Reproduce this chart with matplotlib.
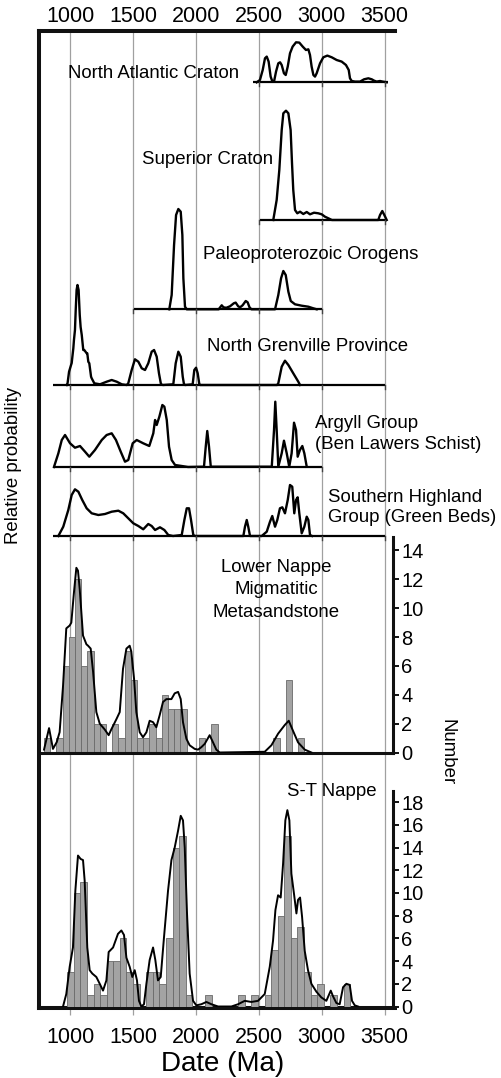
import numpy as np
import matplotlib
matplotlib.use('Agg')
import matplotlib.pyplot as plt

plt.rcParams['font.family'] = ['Liberation Sans', 'DejaVu Sans']

# ---------------- data ----------------
grid_ticks = [1000, 1500, 2000, 2500, 3000, 3500]

# North Atlantic Craton (relative probability, arbitrary units)
nac_age = [2482, 2508, 2530, 2548, 2562, 2577, 2593, 2607, 2620, 2636, 2654, 2668, 2681, 2699, 2713,
           2729, 2747, 2768, 2795, 2821, 2848, 2874, 2893, 2906, 2919, 2933, 2946, 2959, 2986, 3012,
           3044, 3079, 3118, 3158, 3192, 3214, 3224, 3238, 3264, 3304, 3336, 3370, 3397, 3415, 3436,
           3463, 3484, 3516]
nac_h = [0, 2.3, 12.3, 24, 25.7, 20.7, 5.7, 0.7, 0.7, 10.7, 19, 20, 17.3, 9, 7.3,
         15.7, 29, 35.7, 40, 39.7, 35.7, 32.3, 33, 27.3, 15.7, 7.3, 5.7, 9, 19, 25,
         26.7, 25, 22.3, 20.7, 17.3, 12.3, 4, 1.3, 0.7, 0.7, 3, 4, 3, 1.7, 0.7,
         1.3, 0.7, 0]

# Superior Craton
sup_age = [2614, 2641, 2662, 2681, 2694, 2715, 2734, 2752, 2763, 2773, 2787, 2805, 2827, 2853,
           2880, 2906, 2938, 2972, 2999, 3025, 3052, 3080, 3449, 3463, 3481, 3497, 3516]
sup_h = [0, 20, 50, 90, 106.7, 109.3, 106.7, 90, 56.7, 30, 10, 6.7, 8.3, 6,
         8, 5.7, 7.3, 6.7, 5.7, 3.3, 1.7, 0, 0, 5, 9, 5, 0]

# Paleoproterozoic Orogens
pal_age = [1787, 1806, 1825, 1841, 1859, 1878, 1891, 1899, 1912, 1926,
           2180, 2192, 2204, 2218, 2240, 2270, 2300, 2315, 2335, 2350, 2370, 2395, 2410, 2425, 2440,
           2628, 2654, 2676, 2694, 2713, 2734, 2753, 2787, 2840, 2893, 2932, 2959]
pal_h = [0, 14.3, 64.3, 94.3, 100.3, 97.6, 74.3, 31, 2.6, 0,
         0, 2, 4, 2, 1.5, 3, 6, 6.7, 3, 2, 4, 8.3, 7, 2, 0,
         0, 14.3, 31, 38.3, 34.3, 17.6, 8.3, 5, 3.6, 2.6, 1, 0]

# North Grenville Province
ng_age = [971, 978, 990, 1006, 1011, 1024, 1029, 1037, 1043, 1050, 1057, 1066, 1075, 1082, 1091,
          1103, 1111, 1130, 1135, 1143, 1151, 1165, 1170, 1191, 1236, 1289, 1329, 1369, 1409, 1448,
          1461, 1488, 1514, 1541, 1568, 1594, 1620, 1647, 1666, 1687, 1705, 1721, 1737, 1819, 1838,
          1859, 1878, 1894, 1904, 1912, 1973, 1986, 2000, 2013, 2026, 2031, 2644, 2654, 2681, 2707,
          2734, 2773, 2813, 2827]
ng_h = [0, 1.7, 13.3, 20, 22, 36.7, 45, 55, 75, 95, 100, 95, 70, 58, 50,
        35, 35, 31.7, 31.7, 23.3, 21.7, 8.3, 6.7, 1.7, 0.7, 3.3, 5, 3.3, 0.7, 0,
        1.7, 15, 25.7, 23.3, 16.7, 15, 21.7, 33.3, 35, 28.3, 11.7, 0.7, 0, 0.7, 21.7,
        33.3, 28.3, 8.3, 0.7, 0, 0.7, 15, 17.3, 11.7, 0.7, 0, 0, 1.7, 18.3, 24.3,
        20, 11.7, 3.3, 0]

# Argyll Group (Ben Lawers Schist)
arg_age = [870, 905, 932, 958, 998, 1037, 1077, 1117, 1151, 1196, 1250, 1289, 1329, 1363, 1401,
           1435, 1461, 1496, 1528, 1580, 1628, 1660, 1674, 1687, 1708, 1732, 1748, 1767, 1785, 1806,
           1833, 1886, 1936, 2063, 2077, 2089, 2103, 2117, 2602, 2620, 2630, 2641, 2654, 2681, 2699,
           2721, 2741, 2760, 2779, 2795, 2808, 2826, 2845, 2861, 2880]
arg_h = [0, 13.7, 27, 32, 23.7, 19.3, 21, 15.3, 10.3, 17, 27, 32, 33.7, 27, 15.3,
         5.3, 7, 23.7, 27, 23.7, 21, 33.7, 47, 42, 50.3, 62, 60.3, 47, 20.3, 7,
         2, 1, 0, 0.3, 20.3, 36, 20.3, 0.3, 0.3, 37, 65.3, 37, 0.3, 13.7, 26.3,
         13.7, 0.3, 13.7, 44.3, 37, 10.3, 17, 21, 13.7, 0.3]

# Southern Highland Group (Green Beds)
sh_age = [905, 944, 984, 1011, 1037, 1064, 1095, 1130, 1170, 1223, 1276, 1329, 1382, 1421, 1461,
          1501, 1541, 1580, 1620, 1647, 1674, 1713, 1748, 1779, 1817, 1886, 1907, 1926, 1944, 1960,
          1978, 1992, 2376, 2389, 2403, 2415, 2429, 2522, 2562, 2588, 2606, 2628, 2646, 2667, 2686,
          2707, 2729, 2747, 2765, 2781, 2795, 2808, 2821, 2840, 2861, 2880, 2893, 2906, 2922]
sh_h = [0, 9.3, 26, 41, 46.7, 44.3, 36, 27.7, 22.7, 21, 22, 24.3, 25.3, 22.7, 17.7,
        12.7, 10, 6.7, 12, 10, 6, 8.7, 6, 1, 0, 1, 16, 27.7, 27.7, 16,
        1, 0, 0, 9.3, 16, 9.3, 0, 0, 4.3, 14.3, 20, 9.3, 16, 27.7, 28.7,
        22.7, 36, 51, 49.3, 22.7, 36, 38.7, 22.7, 2.7, 9.3, 19.3, 16, 1, 0]

# Lower Nappe Migmatitic Metasandstone: histogram + probability curve
ln_bin_start = 791
ln_bin_width = 49.3
ln_counts = [1, 0, 1, 6, 8, 12, 6, 7, 2, 2, 0, 2, 1, 7, 5, 1, 1, 2, 1, 4, 3, 3, 3, 0, 0, 1, 0, 2,
             0, 0, 0, 0, 0, 0, 0, 0, 0, 1, 0, 5, 0, 1]
ln_age = [791, 831, 862, 892, 915, 942, 968, 995, 1008, 1029, 1048, 1061, 1075, 1101, 1128,
          1141, 1162, 1181, 1207, 1234, 1273, 1305, 1326, 1366, 1393, 1419, 1446, 1472, 1485, 1507,
          1525, 1552, 1578, 1605, 1631, 1658, 1684, 1711, 1737, 1764, 1804, 1830, 1857, 1878, 1896,
          1923, 1949, 1989, 2016, 2042, 2069, 2108, 2135, 2161, 2188, 2546, 2599, 2652, 2705, 2737,
          2771, 2811, 2864, 2917]
ln_val = [0.2, 1.69, 0.25, 0.72, 1.41, 4.6, 8.6, 8.8, 9.0, 11.1, 12.8, 12.6, 11.3, 8.1, 7.5,
          7.4, 7.2, 5.6, 2.8, 2.0, 1.6, 1.2, 1.6, 2.3, 2.8, 5.8, 7.2, 7.4, 7.0, 5.1,
          2.8, 1.4, 1.06, 1.4, 2.2, 2.1, 1.75, 2.6, 3.5, 3.7, 3.7, 4.1, 4.2, 3.7, 2.1,
          0.95, 0.5, 0.25, 0.2, 0.37, 0.6, 1.2, 0.7, 0.2, 0, 0.05, 0.5, 1.3, 1.9, 2.2,
          1.5, 0.7, 0.2, 0]
ln_ticks = [0, 2, 4, 6, 8, 10, 12, 14]

# S-T Nappe: histogram + probability curve
st_bin_start = 976
st_bin_width = 52.3
st_counts = [3, 10, 11, 1, 2, 1, 4, 4, 6, 3, 2, 0, 3, 3, 2, 6, 14, 15, 1, 0,
             0, 1, 0, 0, 0, 0, 1, 0, 1, 0, 1, 5, 8, 15, 6, 7, 3, 1, 2, 0, 1, 0, 2]
st_age = [942, 968, 995, 1021, 1040, 1061, 1082, 1101, 1114, 1135, 1154, 1175, 1207, 1234, 1260,
          1287, 1305, 1340, 1379, 1406, 1427, 1446, 1472, 1493, 1512, 1530, 1546, 1565, 1586, 1605,
          1631, 1658, 1676, 1697, 1719, 1745, 1777, 1804, 1830, 1857, 1878, 1896, 1910, 1928, 1949,
          1976, 2002, 2042, 2082, 2122, 2175, 2281, 2334, 2387, 2440, 2493, 2546, 2586, 2612, 2631,
          2652, 2673, 2692, 2710, 2726, 2742, 2758, 2779, 2798, 2811, 2827, 2843, 2864, 2890, 2917,
          2957, 2996, 3036, 3071, 3089, 3116, 3142, 3169, 3195, 3222, 3240, 3262, 3288]
st_val = [0, 1.1, 3.5, 5.2, 10.2, 13.3, 13.0, 12.9, 11.1, 5.2, 3.2, 2.9, 2.6, 2.0, 1.4,
          2.3, 4.8, 5.2, 6.4, 6.7, 6.3, 4.3, 3.5, 2.6, 3.2, 2.3, 0.5, 0, 0.2, 2.0,
          4.1, 5.2, 4.1, 2.3, 2.6, 6.1, 10.2, 12.9, 14.0, 15.5, 16.8, 16.4, 14.0, 8.2, 2.9,
          0.5, 0.1, 0.2, 0.4, 0.2, 0, 0, 0.2, 0.5, 0.4, 0.5, 1.1, 3.5, 5.8, 8.5,
          9.8, 9.6, 12.6, 16.4, 17.3, 16.4, 11.7, 9.9, 8.2, 9.4, 9.6, 7.9, 4.9, 3.2, 2.0,
          1.3, 0.8, 0.5, 1.4, 0.9, 0.3, 0.2, 1.7, 2.0, 1.9, 0.5, 0.1, 0]
st_ticks = [0, 2, 4, 6, 8, 10, 12, 14, 16, 18]

# ---------------- layout ----------------
W, H = 501, 1078
fig = plt.figure(figsize=(W / 100, H / 100), dpi=100)


def fx(px):
    return px / W


def fy(py):
    return 1 - py / H


FRAME = '#111111'
GRID = '#a0a0a0'

# main frame axes (pixel-like y units: y = H - row)
ax0 = fig.add_axes([fx(39), fy(1007.5), fx(395) - fx(39), fy(31) - fy(1007.5)])
ax0.set_xlim(751, 3582)
ax0.set_ylim(H - 1007.5, H - 31)
ax0.set_yticks([])
ax0.set_xticks(grid_ticks)
ax0.grid(axis='x', color=GRID, lw=0.9)
ax0.set_axisbelow(True)
for s in ['left', 'top', 'bottom']:
    ax0.spines[s].set_linewidth(2.9)
    ax0.spines[s].set_color(FRAME)
ax0.spines['right'].set_visible(False)
ax0.tick_params(axis='x', bottom=True, labelbottom=True, length=5, width=0.9,
                color=GRID, pad=9, labelsize=15.5)

sec = ax0.secondary_xaxis('top')
sec.set_xticks(grid_ticks)
sec.tick_params(axis='x', length=0, pad=3, labelsize=15.5)
sec.spines['top'].set_visible(False)

# upper probability panels: (ages, heights, baseline row, baseline extent)
panels = [
    (nac_age, nac_h, 82.3, 2455, 3529),
    (sup_age, sup_h, 220.0, 2508, 3516),
    (pal_age, pal_h, 309.3, 1506, 3004),
    (ng_age, ng_h, 385.0, 865, 3503),
    (arg_age, arg_h, 467.0, 865, 3004),
    (sh_age, sh_h, 536.0, 865, 3503),
]
for ages, hs, row, x0, x1 in panels:
    base = H - row
    ax0.plot(ages, base + np.asarray(hs), color='k', lw=1.7, solid_joinstyle='round')
    ax0.plot([x0, x1], [base, base], color='k', lw=1.6, solid_capstyle='butt')
    for t in grid_ticks:
        if x0 - 10 <= t <= x1 + 20:
            ax0.plot([t, t], [base, base - 4], color='#444444', lw=1.0)


def hist_panel(top_row, bottom_row, per_unit, start, width, counts, ages, vals, ticks, show_bottom):
    ax = fig.add_axes([fx(39), fy(bottom_row), fx(393) - fx(39), fy(top_row) - fy(bottom_row)])
    ax.patch.set_alpha(0)
    ax.set_xlim(751, 3566)
    ax.set_ylim(0, (bottom_row - top_row) / per_unit)
    edges = start + width * np.arange(len(counts))
    ax.bar(edges, counts, width=width, align='edge', color='#a3a3a3',
           edgecolor='#6a6a6a', lw=0.6, zorder=2)
    ax.plot(ages, vals, color='k', lw=1.4, zorder=3, solid_joinstyle='round')
    ax.set_xticks([])
    ax.spines['top'].set_visible(False)
    ax.spines['left'].set_visible(False)
    ax.spines['right'].set_linewidth(2.2)
    ax.spines['right'].set_color(FRAME)
    if show_bottom:
        ax.spines['bottom'].set_linewidth(2.2)
        ax.spines['bottom'].set_color(FRAME)
    else:
        ax.spines['bottom'].set_visible(False)
    ax.yaxis.tick_right()
    ax.set_yticks(ticks)
    ax.tick_params(axis='y', labelsize=14.5, length=4, width=1.4, pad=2, color=FRAME)
    return ax


hist_panel(537, 752.5, 14.43, ln_bin_start, ln_bin_width, ln_counts, ln_age, ln_val, ln_ticks, True)
hist_panel(790.7, 1006.5, 11.35, st_bin_start, st_bin_width, st_counts, st_age, st_val, st_ticks, False)

# ---------------- text ----------------
LS = 13.4
fig.text(fx(68.3), fy(78), 'North Atlantic Craton', fontsize=LS, va='baseline', ha='left')
fig.text(fx(141.7), fy(163.5), 'Superior Craton', fontsize=LS, va='baseline', ha='left')
fig.text(fx(203.3), fy(259.3), 'Paleoproterozoic Orogens', fontsize=LS, va='baseline', ha='left')
fig.text(fx(206.7), fy(350.7), 'North Grenville Province', fontsize=LS, va='baseline', ha='left')
fig.text(fx(315), fy(427.7), 'Argyll Group', fontsize=LS, va='baseline', ha='left')
fig.text(fx(315), fy(449), '(Ben Lawers Schist)', fontsize=LS, va='baseline', ha='left')
fig.text(fx(328), fy(501.7), 'Southern Highland', fontsize=LS, va='baseline', ha='left')
fig.text(fx(328), fy(522.3), 'Group (Green Beds)', fontsize=LS, va='baseline', ha='left')
fig.text(fx(276), fy(572.3), 'Lower Nappe', fontsize=LS, va='baseline', ha='center')
fig.text(fx(276), fy(594.3), 'Migmatitic', fontsize=LS, va='baseline', ha='center')
fig.text(fx(276), fy(617.3), 'Metasandstone', fontsize=LS, va='baseline', ha='center')
fig.text(fx(377), fy(796), 'S-T Nappe', fontsize=LS, va='baseline', ha='right')

fig.text(fx(14), fy(465), 'Relative probability', fontsize=LS, rotation=90, ha='center', va='center')
fig.text(fx(447), fy(752), 'Number', fontsize=LS, rotation=270, ha='center', va='center')
fig.text(fx(223), fy(1071), 'Date (Ma)', fontsize=20, ha='center', va='baseline')

fig.savefig('out.png', dpi=100)
